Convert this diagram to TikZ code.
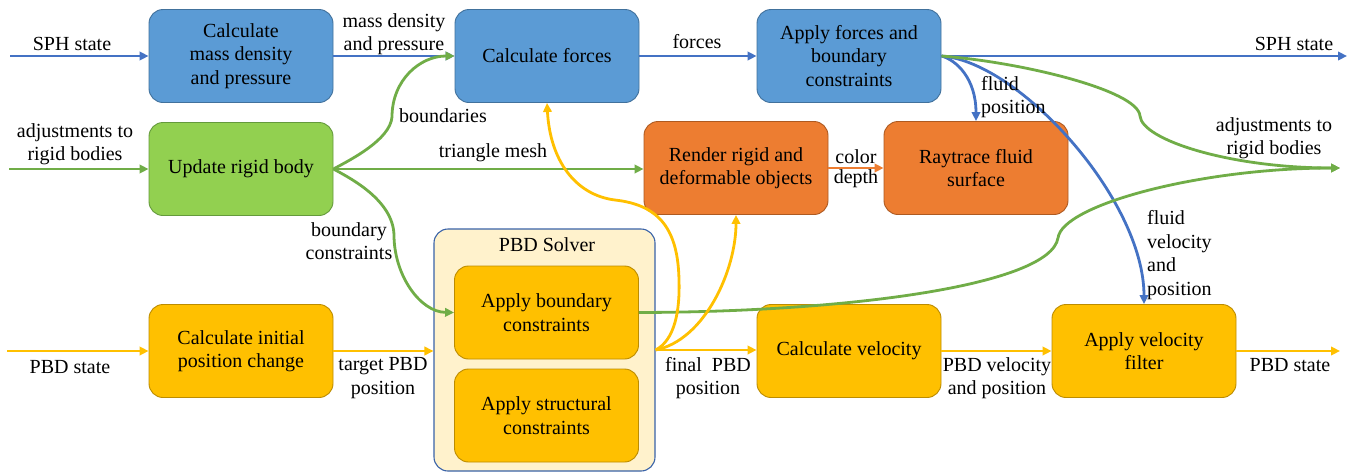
\documentclass[tikz,border=0pt]{standalone}
\usepackage{fontspec}
\setmainfont{Liberation Serif}
\usetikzlibrary{arrows.meta}
\definecolor{bfill}{HTML}{5B9BD5}
\definecolor{bline}{HTML}{41719C}
\definecolor{gfill}{HTML}{92D050}
\definecolor{gline}{HTML}{649A3C}
\definecolor{ofill}{HTML}{ED7D31}
\definecolor{oline}{HTML}{AE5A21}
\definecolor{yfill}{HTML}{FFC000}
\definecolor{yline}{HTML}{BC8C00}
\definecolor{cfill}{HTML}{FFF2CC}
\definecolor{cline}{HTML}{3A63A8}
\definecolor{ablue}{HTML}{4472C4}
\definecolor{agreen}{HTML}{70AD47}
\definecolor{ayellow}{HTML}{FFC000}
\definecolor{aorange}{HTML}{ED7D31}
\begin{document}
\begin{tikzpicture}[x=1pt,y=-1pt,
  every node/.style={font=\fontsize{20}{23.4}\selectfont},
  box/.style={rounded corners=14pt, minimum width=184pt, minimum height=93pt, align=center, line width=0.9pt, inner sep=2pt},
  bbox/.style={box, fill=bfill, draw=bline},
  gbox/.style={box, fill=gfill, draw=gline},
  obox/.style={box, fill=ofill, draw=oline},
  ybox/.style={box, fill=yfill, draw=yline},
  cont/.style={rounded corners=14pt, minimum width=221pt, minimum height=242pt, fill=cfill, draw=cline, line width=1.1pt},
  lbl/.style={align=center, inner sep=0pt},
  arr/.style={line width=2.8pt, -{Triangle[length=9pt,width=8.5pt]}},
  barr/.style={arr, draw=ablue},
  garr/.style={arr, draw=agreen},
  yarr/.style={arr, draw=ayellow},
  oarr/.style={arr, draw=aorange}
]
\useasboundingbox[fill=white] (0,0) rectangle (1350,472);

% container and boxes
\node[cont] (pbd) at (544.5,350) {};
\node[lbl] (pbdl) at (547,245) {PBD Solver};
\node[bbox] (md) at (241,56) {Calculate\\mass density\\and pressure};
\node[bbox] (cf) at (547,56) {Calculate forces};
\node[bbox] (af) at (849,56) {Apply forces and\\boundary\\constraints};
\node[gbox] (urb) at (241,169) {Update rigid body};
\node[obox] (rr) at (736,168) {Render rigid and\\deformable objects};
\node[obox] (rt) at (976,168) {Raytrace fluid\\surface};
\node[ybox] (cip) at (241,351) {Calculate initial\\position change};
\node[ybox] (abc) at (546.5,312.5) {Apply boundary\\constraints};
\node[ybox] (asc) at (546.5,415.5) {Apply structural\\constraints};
\node[ybox] (cv) at (849,351) {Calculate velocity};
\node[ybox] (avf) at (1144,351) {Apply velocity\\filter};

% free ends
\coordinate (sphin) at (10,56);
\coordinate (sphout) at (1347,56);
\coordinate (adjin) at (9,169);
\coordinate (adjout) at (1340,168);
\coordinate (pbdin) at (7,351);
\coordinate (pbdout) at (1340,351);

% blue connectors
\draw[barr] (sphin) -- (md.west);
\draw[barr] (md.east) -- (cf.west);
\draw[barr] (cf.east) -- (af.west);
\draw[barr] (af.east) -- (sphout);
\draw[barr] (af.east) .. controls (956,60) and (976,78) .. (rt.north);
\draw[barr] (af.east) .. controls (1020,62) and (1144,200) .. (avf.north);

% green connectors
\draw[garr] (adjin) -- (urb.west);
\draw[garr] (urb.east) -- (urb.east -| rr.west);
\draw[garr] (urb.east) .. controls (350,160) and (390,140) .. (392,117) .. controls (392,80) and (420,56) .. (cf.west);
\draw[garr] (urb.east) .. controls (350,178) and (393,200) .. (394,235) .. controls (394,275) and (420,312) .. (abc.west);
\draw[garr] (af.east) .. controls (1020,62) and (1138,90) .. (1140,116) .. controls (1142,140) and (1230,168) .. (adjout);
\draw[garr] (abc.east) .. controls (850,312) and (1050,285) .. (1058,238) .. controls (1062,205) and (1200,168) .. (adjout);

% orange connector
\draw[oarr] (rr.east) -- (rt.west);

% yellow connectors
\draw[yarr] (pbdin) -- (cip.west);
\draw[yarr] (cip.east) -- (cip.east -| pbd.west);
\draw[yarr] (pbd.east) -- (pbd.east -| cv.west);
\draw[yarr] (cv.east) -- (avf.west);
\draw[yarr] (avf.east) -- (pbdout);
\draw[yarr] (pbd.east) .. controls (675,340) and (680,310) .. (679,280) .. controls (678,230) and (660,205) .. (615,200) .. controls (575,195) and (550,160) .. (cf.south);
\draw[yarr] (pbd.east) .. controls (705,340) and (736,270) .. (rr.south);

% labels
\node[lbl] at (72,44) {SPH state};
\node[lbl] at (394,34) {mass density\\and pressure};
\node[lbl] at (697,42) {forces};
\node[lbl] at (1294,44) {SPH state};
\node[lbl] at (75,144) {adjustments to\\rigid bodies};
\node[lbl] at (443,116) {boundaries};
\node[lbl] at (493,153) {triangle mesh};
\node[lbl] at (349,241) {boundary\\constraints};
\node[lbl] at (856,157) {color};
\node[lbl] at (856,179) {depth};
\node[lbl, anchor=west, align=left] at (981,97) {fluid\\position};
\node[lbl] at (1274,138) {adjustments to\\rigid bodies};
\node[lbl, anchor=west, align=left] at (1147,255) {fluid\\velocity\\and\\position};
\node[lbl] at (70,367) {PBD state};
\node[lbl] at (383,378) {target PBD\\position};
\node[lbl] at (708,378) {final\ \ PBD\\position};
\node[lbl] at (997,378) {PBD velocity\\and position};
\node[lbl] at (1290,365) {PBD state};
\end{tikzpicture}
\end{document}
